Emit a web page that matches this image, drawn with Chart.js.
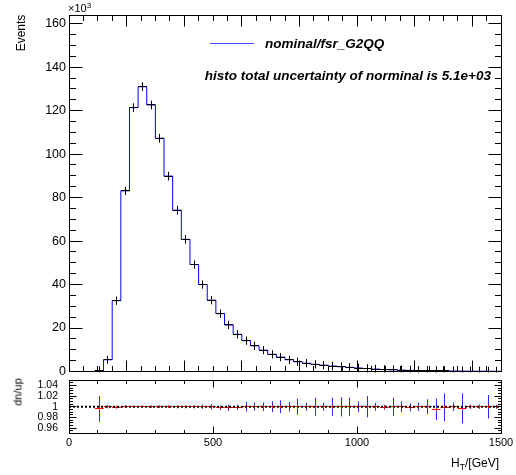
<!DOCTYPE html>
<html>
<head>
<meta charset="utf-8">
<script src="https://cdn.jsdelivr.net/npm/chart.js@4.4.1/dist/chart.umd.min.js"></script>
<style>
  html, body { margin: 0; padding: 0; background: #fff; }
  #wrap { position: relative; width: 516px; height: 475px; overflow: hidden;
          font-family: "Liberation Sans", Arial, sans-serif; color: #000; }
  canvas { position: absolute; left: 0; }
  .t { position: absolute; white-space: nowrap; line-height: 1; }
  .rot { transform: translate(-50%, -50%) rotate(-90deg); }
  .bi { font-weight: bold; font-style: italic; font-size: 13.5px; }
</style>
</head>
<body>
<div id="wrap">
  <canvas id="main" width="516" height="378" style="top:0"></canvas>
  <canvas id="ratio" width="516" height="100" style="top:375px"></canvas>

  <div class="t" style="left:68px;top:3px;font-size:11px">×10<span style="font-size:8px;position:relative;top:-4px">3</span></div>
  <div class="t rot" style="left:21px;top:33px;font-size:12px">Events</div>
  <div class="t rot" style="left:17.5px;top:392px;font-size:11px">dn/up</div>

  <div style="position:absolute;left:210px;top:43px;width:44px;height:1px;background:rgb(70,70,255)"></div>
  <div class="t bi" style="left:265px;top:37px">nominal/fsr_G2QQ</div>
  <div class="t bi" style="right:25px;top:68.5px">histo total uncertainty of norminal is 5.1e+03</div>

  <div class="t" style="right:17px;top:457px;font-size:12px">H<span style="font-size:8.5px;position:relative;top:3px">T</span>/[GeV]</div>
</div>

<script>
// Histogram binning (GeV), 30 GeV wide bins from 0 to 1500
const binCenters = [15, 45, 75, 105, 135, 165, 195, 225, 255, 285,
                    315, 345, 375, 405, 435, 465, 495, 525, 555, 585,
                    615, 645, 675, 705, 735, 765, 795, 825, 855, 885,
                    915, 945, 975, 1005, 1035, 1065, 1095, 1125, 1155, 1185,
                    1215, 1245, 1275, 1305, 1335, 1365, 1395, 1425, 1455, 1485];

// Events per bin, in units of 10^3
const events = [0, 0, 0, 0.3, 5.4, 32.6, 83.1, 121.4, 131.0, 122.6,
                107.3, 89.9, 74.2, 60.8, 49.2, 40.0, 32.8, 26.6, 21.4, 17.1,
                14.2, 11.8, 9.8, 7.9, 6.6, 5.4, 4.5, 3.8, 3.3, 2.9,
                2.5, 2.2, 1.9, 1.6, 1.35, 1.1, 0.9, 0.75, 0.62, 0.52,
                0.44, 0.37, 0.31, 0.26, 0.22, 0.19, 0.16, 0.14, 0.12, 0.10];

// Uncertainty per bin, in units of 10^3 (null = empty bin)
const eventErr = [null, null, null, 2.1, 1.8, 1.9, 1.9, 2.0, 2.0, 2.0,
                  2.0, 2.0, 2.0, 2.0, 1.9, 1.9, 1.9, 1.9, 1.9, 1.9,
                  1.9, 1.9, 1.9, 1.9, 1.9, 1.9, 1.9, 1.9, 1.9, 1.9,
                  2.0, 2.0, 2.0, 2.0, 2.0, 2.0, 2.0, 2.0, 2.1, 2.1,
                  2.1, 2.1, 2.1, 2.1, 2.1, 2.1, 2.1, 2.1, 2.1, 2.1];

// dn/up ratio per bin and its two error bands
const ratio = [null, null, null, 0.996, 1.000, 0.999, 1.000, 1.000, 1.000, 1.000,
               1.000, 1.000, 1.000, 1.000, 1.000, 1.000, 1.000, 0.998, 0.998, 0.999,
               1.000, 1.000, 1.000, 1.000, 1.000, 1.000, 1.000, 1.000, 1.000, 1.000,
               1.000, 1.000, 1.000, 1.000, 1.000, 1.000, 0.999, 1.000, 1.000, 0.999,
               1.000, 1.000, 0.995, 0.999, 1.000, 0.997, 1.000, 1.000, 1.000, 1.000];
const ratioErr = [null, null, null, 0.004, 0.0025, 0.0025, 0.0025, 0.0025, 0.0025, 0.0025,
                  0.0025, 0.0025, 0.0025, 0.0025, 0.0025, 0.0025, 0.0025, 0.0025, 0.0025, 0.0025,
                  0.0025, 0.0025, 0.0025, 0.0025, 0.0025, 0.0025, 0.0025, 0.003, 0.003, 0.003,
                  0.003, 0.003, 0.003, 0.003, 0.003, 0.003, 0.003, 0.003, 0.003, 0.003,
                  0.003, 0.003, 0.003, 0.003, 0.003, 0.003, 0.003, 0.003, 0.003, 0.003];
const ratioBand = [null, null, null, 0.024, 0.003, 0.002, 0.002, 0.002, 0.002, 0.002,
                   0.002, 0.002, 0.003, 0.003, 0.003, 0.004, 0.005, 0.004, 0.006, 0.005,
                   0.009, 0.0075, 0.008, 0.010, 0.012, 0.009, 0.015, 0.0075, 0.017, 0.0075,
                   0.017, 0.018, 0.017, 0.010, 0.020, 0.0075, 0.0045, 0.017, 0.010, 0.0075,
                   0.008, 0.014, 0.020, 0.026, 0.008, 0.028, 0.004, 0.004, 0.022, 0.004];
const ratioRef = 1;

// Axis tick labels
const mainYTicks = [0, 20, 40, 60, 80, 100, 120, 140, 160];
const ratioXTicks = [0, 500, 1000, 1500];
const ratioYTicks = [0.96, 0.98, 1, 1.02, 1.04];
const ratioYLabels = ['0.96', '0.98', '1', '1.02', '1.04'];

const binWidth = binCenters[1] - binCenters[0];
const FONT = 'Liberation Sans';
const snap = v => Math.floor(v) + 0.5;

// Keep the plot frame fixed: axes contribute no extra edge padding
function noEdgePadding(s) {
  s.paddingTop = 0; s.paddingBottom = 0; s.paddingLeft = 0; s.paddingRight = 0;
}

// Step outline: one point per lower bin edge, closed at the upper edge
const stepPoints = binCenters.map((c, i) => ({ x: c - binWidth / 2, y: events[i] }));
stepPoints.push({ x: binCenters[binCenters.length - 1] + binWidth / 2, y: events[events.length - 1] });

// Frame box plus inward-pointing ticks on all four sides
function frameAndTicks(chart, o) {
  const { ctx, chartArea: a, scales: { x, y } } = chart;
  const L = snap(a.left), R = snap(a.right), T = snap(a.top), B = snap(a.bottom);
  ctx.save();
  ctx.strokeStyle = '#000';
  ctx.lineWidth = 1;
  ctx.strokeRect(L, T, R - L, B - T);
  ctx.beginPath();
  for (let k = 0; k <= o.xCount; k++) {
    const v = x.min + k * o.xStep;
    const len = (k % o.xEvery === 0) ? o.xMaj : o.xMin;
    const p = snap(x.getPixelForValue(v));
    ctx.moveTo(p, B); ctx.lineTo(p, B - len);
    ctx.moveTo(p, T); ctx.lineTo(p, T + len);
  }
  for (let k = 0; k <= o.yCount; k++) {
    const v = o.yStart + k * o.yStep;
    if (v > y.max + 1e-9) break;
    const isMaj = o.yMajors.some(m => Math.abs(m - v) < 1e-9);
    const len = isMaj ? o.yMaj : o.yMin;
    const p = snap(y.getPixelForValue(v));
    ctx.moveTo(L, p); ctx.lineTo(L + len, p);
    ctx.moveTo(R, p); ctx.lineTo(R - len, p);
  }
  ctx.stroke();
  ctx.restore();
}

// Black error crosses on top of the blue histogram outline
const mainMarks = {
  id: 'mainMarks',
  afterDatasetsDraw(chart) {
    const { ctx, chartArea: a, scales: { x, y } } = chart;
    ctx.save();
    ctx.beginPath();
    ctx.rect(a.left, a.top, a.right - a.left, a.bottom - a.top + 1);
    ctx.clip();
    ctx.strokeStyle = '#000';
    ctx.lineWidth = 1;
    ctx.beginPath();
    binCenters.forEach((c, i) => {
      if (eventErr[i] == null) return;
      const xl = x.getPixelForValue(c - binWidth / 2);
      const xr = x.getPixelForValue(c + binWidth / 2);
      const xc = snap(x.getPixelForValue(c));
      const yv = snap(y.getPixelForValue(events[i]));
      ctx.moveTo(xl, yv); ctx.lineTo(xr, yv);
      ctx.moveTo(xc, y.getPixelForValue(events[i] + eventErr[i]));
      ctx.lineTo(xc, y.getPixelForValue(events[i] - eventErr[i]));
    });
    ctx.stroke();
    ctx.restore();
    frameAndTicks(chart, {
      xStep: 50, xCount: 30, xEvery: 4, xMaj: 11, xMin: 5.5,
      yStart: 0, yStep: 5, yCount: 40, yMajors: mainYTicks, yMaj: 13, yMin: 6.5
    });
  }
};

// Ratio markers: blue error bars, red crosses; the dotted unity line is drawn over them
const ratioMarks = {
  id: 'ratioMarks',
  beforeDatasetsDraw(chart) {
    const { ctx, chartArea: a, scales: { x, y } } = chart;
    ctx.save();
    ctx.beginPath();
    ctx.rect(a.left, a.top, a.right - a.left, a.bottom - a.top);
    ctx.clip();
    ctx.lineWidth = 1;
    ctx.strokeStyle = 'rgb(40,40,255)';
    ctx.beginPath();
    binCenters.forEach((c, i) => {
      if (ratio[i] == null) return;
      const xc = snap(x.getPixelForValue(c));
      ctx.moveTo(xc, y.getPixelForValue(ratio[i] + ratioBand[i]));
      ctx.lineTo(xc, y.getPixelForValue(ratio[i] - ratioBand[i]));
    });
    ctx.stroke();
    ctx.strokeStyle = 'rgb(255,0,0)';
    ctx.beginPath();
    binCenters.forEach((c, i) => {
      if (ratio[i] == null) return;
      const xl = x.getPixelForValue(c - binWidth / 2);
      const xr = x.getPixelForValue(c + binWidth / 2);
      const xc = snap(x.getPixelForValue(c));
      const yv = snap(y.getPixelForValue(ratio[i]));
      ctx.moveTo(xl, yv); ctx.lineTo(xr, yv);
      ctx.moveTo(xc, y.getPixelForValue(ratio[i] + ratioErr[i]));
      ctx.lineTo(xc, y.getPixelForValue(ratio[i] - ratioErr[i]));
    });
    ctx.stroke();
    ctx.restore();
  },
  afterDatasetsDraw(chart) {
    frameAndTicks(chart, {
      xStep: 100, xCount: 15, xEvery: 5, xMaj: 7, xMin: 3.5,
      yStart: 0.95, yStep: 0.005, yCount: 20, yMajors: ratioYTicks, yMaj: 7, yMin: 3.5
    });
  }
};

new Chart(document.getElementById('main'), {
  type: 'line',
  data: {
    datasets: [{
      label: 'nominal/fsr_G2QQ',
      data: stepPoints,
      stepped: 'before',
      borderColor: 'rgb(0,0,255)',
      borderWidth: 1,
      pointRadius: 0,
      fill: false
    }]
  },
  options: {
    responsive: false,
    animation: false,
    devicePixelRatio: 1,
    layout: { padding: { top: 15, right: 15, bottom: 6.5, left: 0 } },
    plugins: { legend: { display: false }, tooltip: { enabled: false } },
    scales: {
      x: { type: 'linear', min: 0, max: 1500, display: false },
      y: {
        type: 'linear', min: 0, max: 164,
        afterFit(s) { s.width = 69; noEdgePadding(s); },
        afterBuildTicks(s) { s.ticks = mainYTicks.map(v => ({ value: v })); },
        grid: { display: false, drawTicks: false },
        border: { display: false },
        ticks: { padding: 3, autoSkip: false, color: '#000',
                 font: { family: FONT, size: 12.5, lineHeight: 1 }, callback: v => String(v) }
      }
    }
  },
  plugins: [mainMarks]
});

new Chart(document.getElementById('ratio'), {
  type: 'line',
  data: {
    datasets: [{
      label: 'unity',
      data: [{ x: 0, y: ratioRef }, { x: 1500, y: ratioRef }],
      borderColor: '#000',
      borderWidth: 2,
      borderDash: [2, 2],
      pointRadius: 0,
      fill: false
    }]
  },
  options: {
    responsive: false,
    animation: false,
    devicePixelRatio: 1,
    layout: { padding: { top: 5, right: 15, bottom: 0, left: 0 } },
    plugins: { legend: { display: false }, tooltip: { enabled: false } },
    scales: {
      x: {
        type: 'linear', min: 0, max: 1500, position: 'bottom',
        afterFit(s) { s.height = 41.5; noEdgePadding(s); },
        afterBuildTicks(s) { s.ticks = ratioXTicks.map(v => ({ value: v })); },
        grid: { display: false, drawTicks: false },
        border: { display: false },
        ticks: { padding: 3, autoSkip: false, maxRotation: 0, color: '#000',
                 font: { family: FONT, size: 11 }, callback: v => String(v) }
      },
      y: {
        type: 'linear', min: 0.95, max: 1.05,
        afterFit(s) { s.width = 69; noEdgePadding(s); },
        afterBuildTicks(s) { s.ticks = ratioYTicks.map(v => ({ value: v })); },
        grid: { display: false, drawTicks: false },
        border: { display: false },
        ticks: { padding: 11, autoSkip: false, color: '#000',
                 font: { family: FONT, size: 10.5, lineHeight: 1 },
                 callback: (v, i) => ratioYLabels[i] }
      }
    }
  },
  plugins: [ratioMarks]
});
</script>
</body>
</html>
